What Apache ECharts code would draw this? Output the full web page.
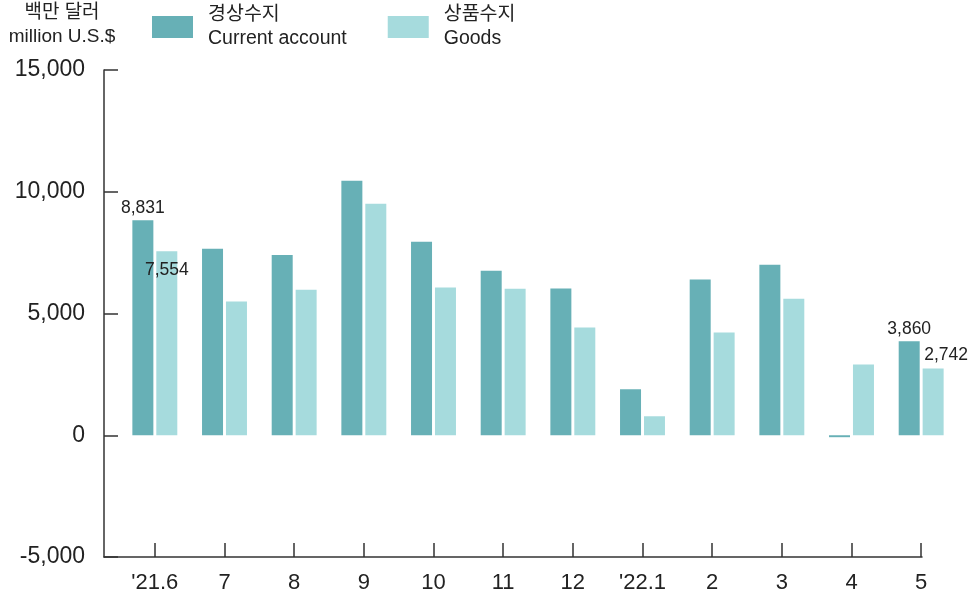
<!DOCTYPE html>
<html>
<head>
<meta charset="utf-8">
<script src="https://cdn.jsdelivr.net/npm/echarts@6/dist/echarts.min.js"></script>
<style>
	html, body { margin: 0; padding: 0; background: #fff; }
	#chart { width: 971px; height: 598px; }
</style>
</head>
<body>
<div id="chart"></div>
<script>
var months = ["'21.6", '7', '8', '9', '10', '11', '12', "'22.1", '2', '3', '4', '5'];
var currentAccount = [8831, 7660, 7400, 10450, 7950, 6760, 6030, 1890, 6400, 7000, -80, 3860];
var goods = [7554, 5490, 5980, 9510, 6070, 6020, 4430, 780, 4220, 5610, 2910, 2742];
var yTicks = [-5000, 0, 5000, 10000, 15000];

var fontFam = "'Liberation Sans', Arial, sans-serif";
var koFam = "'Liberation Sans', 'Noto Sans CJK KR', sans-serif";

// only first and last month carry value labels
function showLabel(i) {
	return i === 0 || i === months.length - 1;
}

function fmt(v) {
	return v.toLocaleString('en-US');
}

/*--main chart--*/
var myChart = echarts.init(document.getElementById('chart'));
var option = {
	animation: false,
	title: {
		text: '백만 달러\nmillion U.S.$',
		left: 62,
		top: 1,
		padding: 0,
		textAlign: 'center',
		textStyle: {
			fontFamily: koFam,
			fontSize: 19,
			fontWeight: 'normal',
			lineHeight: 24,
			color: '#222'
		}
	},
	legend: {
		left: 152,
		top: 3,
		padding: 0,
		icon: 'rect',
		itemWidth: 41,
		itemHeight: 22,
		itemGap: 41,
		data: ['경상수지\nCurrent account', '상품수지\nGoods'],
		textStyle: {
			fontFamily: koFam,
			fontSize: 19.5,
			lineHeight: 24,
			color: '#222',
			padding: [0, 0, 0, 10]
		}
	},
	grid: [{
		left: 120,
		right: 15,
		top: 70,
		bottom: 41
	}, {
		left: 104,
		right: 49,
		top: 70,
		bottom: 41
	}],
	xAxis: [{
		type: 'category',
		gridIndex: 0,
		data: months,
		axisLine: { show: false, onZero: false },
		axisTick: {
			show: true,
			inside: true,
			alignWithLabel: true,
			length: 14,
			lineStyle: { color: '#333', width: 1.5 }
		},
		axisLabel: {
			margin: 15,
			fontFamily: fontFam,
			fontSize: 22,
			color: '#222'
		}
	}, {
		type: 'value',
		gridIndex: 1,
		min: 0,
		max: 1,
		axisLine: { show: true, onZero: false, lineStyle: { color: '#333', width: 1.5 } },
		axisTick: { show: false },
		axisLabel: { show: false },
		splitLine: { show: false }
	}],
	yAxis: [{
		type: 'value',
		gridIndex: 0,
		min: yTicks[0],
		max: yTicks[yTicks.length - 1],
		interval: 5000,
		show: false
	}, {
		type: 'value',
		gridIndex: 1,
		min: yTicks[0],
		max: yTicks[yTicks.length - 1],
		interval: 5000,
		axisLine: { show: true, onZero: false, lineStyle: { color: '#333', width: 1.5 } },
		axisTick: {
			show: true,
			inside: true,
			length: 14,
			lineStyle: { color: '#333', width: 1.5 }
		},
		axisLabel: {
			margin: 19,
			fontFamily: fontFam,
			fontSize: 23,
			color: '#222',
			formatter: fmt
		},
		splitLine: { show: false }
	}],
	series: [{
		name: '경상수지\nCurrent account',
		type: 'bar',
		xAxisIndex: 0,
		yAxisIndex: 0,
		barWidth: 21,
		barGap: '14%',
		itemStyle: { color: '#67b0b6' },
		data: currentAccount.map(function(v, i) {
			return {
				value: v,
				label: {
					show: showLabel(i),
					position: 'top',
					distance: 3,
					fontFamily: fontFam,
					fontSize: 17.5,
					color: '#222',
					formatter: function(p) { return fmt(p.value); }
				}
			};
		})
	}, {
		name: '상품수지\nGoods',
		type: 'bar',
		xAxisIndex: 0,
		yAxisIndex: 0,
		barWidth: 21,
		itemStyle: { color: '#a6dbdd' },
		data: goods.map(function(v, i) {
			return {
				value: v,
				label: {
					show: showLabel(i),
					position: i === 0 ? 'insideTop' : 'top',
					offset: i === 0 ? [0, 6] : [13, 0],
					distance: 4,
					fontFamily: fontFam,
					fontSize: 17.5,
					color: '#222',
					formatter: function(p) { return fmt(p.value); }
				}
			};
		})
	}]
};
myChart.setOption(option);
</script>
</body>
</html>
